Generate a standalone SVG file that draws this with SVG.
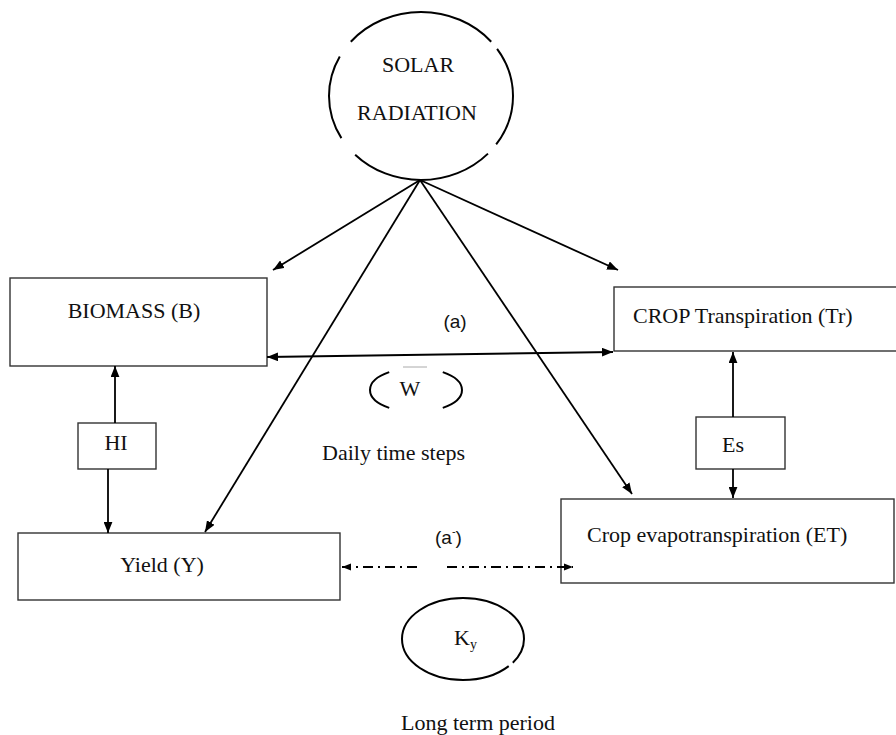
<svg xmlns="http://www.w3.org/2000/svg" width="896" height="735" viewBox="0 0 896 735">
<style>
  .box { fill: #fff; stroke: #333; stroke-width: 1.4; }
  .t { font-family: "Liberation Serif", "Times New Roman", serif; font-size: 22px; fill: #111; }
  .s { font-family: "Liberation Sans", Arial, sans-serif; font-size: 19px; fill: #111; }
  .ln { stroke: #000; stroke-width: 1.8; fill: none; }
  .ell { stroke: #000; stroke-width: 2; fill: none; }
</style>
<defs>
  <marker id="ah" viewBox="0 0 10 8" markerUnits="userSpaceOnUse" markerWidth="11" markerHeight="9" refX="10" refY="4" orient="auto-start-reverse">
    <path d="M0,0 L10,4 L0,8 z" fill="#000"/>
  </marker>
  <marker id="ahs" viewBox="0 0 10 8" markerUnits="userSpaceOnUse" markerWidth="9" markerHeight="8" refX="10" refY="4" orient="auto-start-reverse">
    <path d="M0,0 L10,4 L0,8 z" fill="#000"/>
  </marker>
</defs>
<rect width="896" height="735" fill="#fff"/>

<g id="solar">
  <ellipse class="ell" cx="421" cy="96" rx="92" ry="84" pathLength="360" stroke-dasharray="34 8 95 14 56 12 102 6 33"/>
  <text class="t" x="418" y="72" text-anchor="middle">SOLAR</text>
  <text class="t" x="417" y="120" text-anchor="middle">RADIATION</text>
</g>

<g id="biomass">
  <rect class="box" x="10" y="278" width="257" height="88"/>
  <text class="t" x="134" y="318" text-anchor="middle">BIOMASS (B)</text>
</g>

<g id="transpiration">
  <rect class="box" x="614" y="287" width="290" height="64"/>
  <text class="t" x="633" y="323">CROP Transpiration (Tr)</text>
</g>

<g id="hi">
  <rect class="box" x="78" y="423" width="78" height="46"/>
  <text class="t" x="116" y="450" text-anchor="middle">HI</text>
</g>

<g id="es">
  <rect class="box" x="696" y="417" width="89" height="52"/>
  <text class="t" x="733" y="452" text-anchor="middle">Es</text>
</g>

<g id="yield">
  <rect class="box" x="18" y="533" width="322" height="67"/>
  <text class="t" x="162" y="572" text-anchor="middle">Yield (Y)</text>
</g>

<g id="et">
  <rect class="box" x="561" y="499" width="333" height="84"/>
  <text class="t" x="587" y="542">Crop evapotranspiration (ET)</text>
</g>

<g id="w">
  <ellipse class="ell" cx="416" cy="390" rx="46" ry="22" pathLength="360" stroke-dasharray="46 88 92 88 46"/>
  <line x1="403" y1="367" x2="427" y2="367" stroke="#aaa" stroke-width="1"/>
  <text class="t" x="410" y="396" text-anchor="middle">W</text>
</g>

<g id="ky">
  <ellipse class="ell" cx="463" cy="639" rx="61" ry="41" pathLength="360" stroke-dasharray="30 6 324"/>
  <text class="t" x="454" y="645">K<tspan font-size="14" dy="4">y</tspan></text>
</g>

<g id="labels">
  <text class="s" x="455" y="328" text-anchor="middle">(a)</text>
  <text class="s" x="435" y="544">(a<tspan font-size="11" dy="-9">-</tspan><tspan dy="9">)</tspan></text>
  <text class="t" x="322" y="460">Daily time steps</text>
  <text class="t" x="401" y="730">Long term period</text>
</g>

<g id="connectors">
  <line class="ln" x1="420" y1="180" x2="273" y2="270" marker-end="url(#ah)"/>
  <line class="ln" x1="420" y1="180" x2="618" y2="270" marker-end="url(#ah)"/>
  <line class="ln" x1="420" y1="180" x2="205" y2="532" marker-end="url(#ah)"/>
  <line class="ln" x1="420" y1="180" x2="632" y2="494" marker-end="url(#ah)"/>
  <line class="ln" x1="267" y1="357" x2="613" y2="352" marker-start="url(#ah)" marker-end="url(#ah)"/>
  <line class="ln" x1="115" y1="423" x2="115" y2="366" marker-end="url(#ah)"/>
  <line class="ln" x1="108" y1="469" x2="108" y2="533" marker-end="url(#ah)"/>
  <line class="ln" x1="733" y1="417" x2="733" y2="352" marker-end="url(#ah)"/>
  <line class="ln" x1="733" y1="469" x2="733" y2="498" marker-end="url(#ah)"/>
  <line class="ln" x1="417" y1="567" x2="342" y2="567" stroke-width="1.6" stroke-dasharray="10 5 2 5" marker-end="url(#ahs)"/>
  <line class="ln" x1="447" y1="567" x2="573" y2="567" stroke-width="1.6" stroke-dasharray="10 5 2 5" marker-end="url(#ahs)"/>
</g>
</svg>
